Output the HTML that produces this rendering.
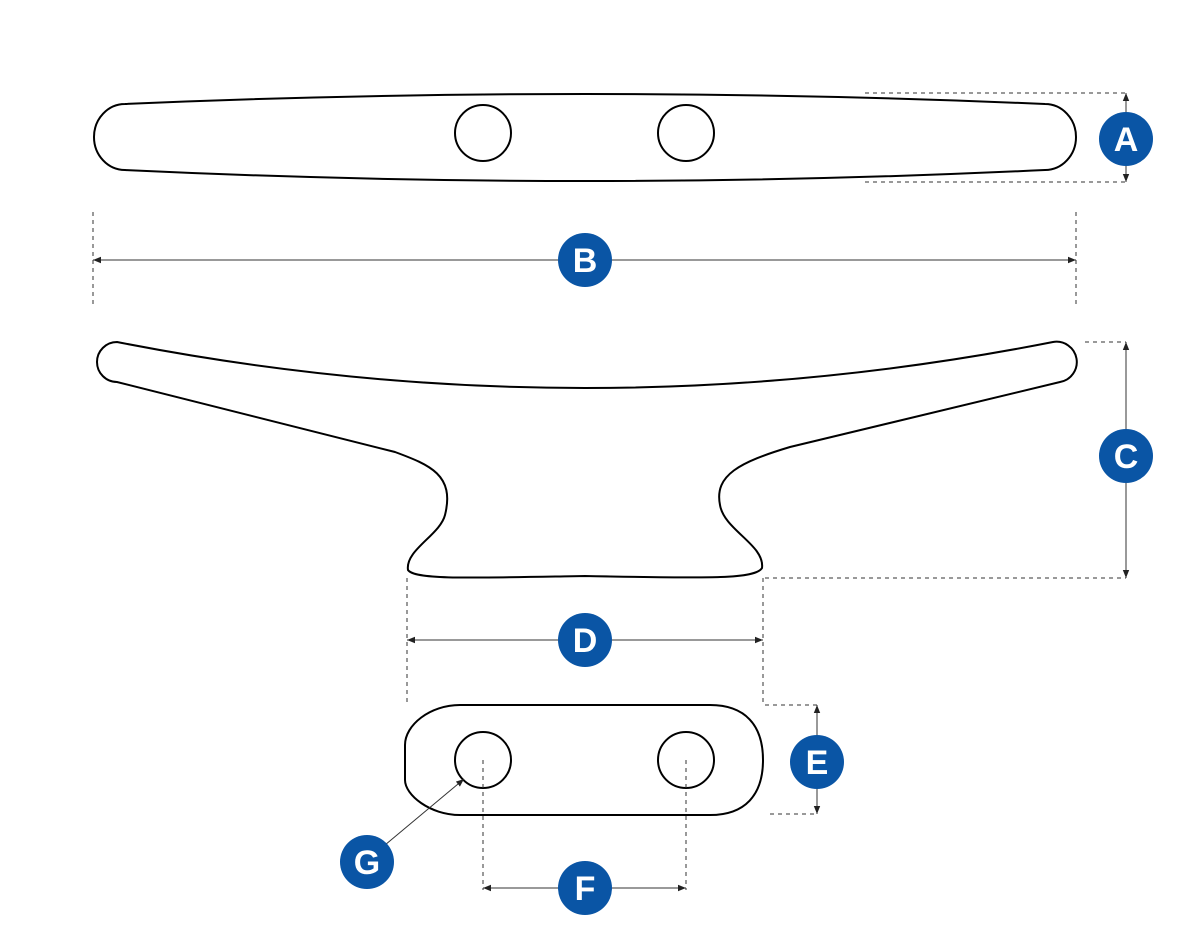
<!DOCTYPE html>
<html><head><style>body{margin:0;background:#fff}svg{display:block}</style></head><body>
<svg width="1200" height="950" viewBox="0 0 1200 950" xmlns="http://www.w3.org/2000/svg">
<defs>
<marker id="ar" viewBox="0 0 10 10" refX="10" refY="5" markerWidth="8" markerHeight="8" orient="auto-start-reverse" markerUnits="userSpaceOnUse"><path d="M0,1 L10,5 L0,9 Z" fill="#222"/></marker>
</defs>
<g fill="none" stroke="#000" stroke-width="2">
<path d="M125,104 Q585,84 1045,104 A31,33 0 0 1 1045,170 Q585,192 125,170 A31,33 0 0 1 125,104 Z"/>
<circle cx="483" cy="133" r="28"/><circle cx="686" cy="133" r="28"/>
<path d="M117,342 Q585,434 1053,342 A20,20 0 0 1 1060,382 L790,447 C740,462 714,475 720,505 C724,530 765,545 762,568 C755,580 700,578 585,576 C470,578 415,580 408,570 C405,550 440,535 445,515 C455,475 430,465 395,452 L117,382 A20,20 0 0 1 117,342 Z"/>
<path d="M460,705 L710,705 C745,705 763,725 763,760 C763,795 745,815 710,815 L460,815 C430,815 405,795 405,780 L405,745 C405,725 430,705 460,705 Z"/>
<circle cx="483" cy="760" r="28"/><circle cx="686" cy="760" r="28"/>
</g>
<g stroke="#333" stroke-width="1" stroke-dasharray="4,4" fill="none">
<path d="M865,93H1126M865,182H1126"/>
<path d="M93,212V308M1076,212V308"/>
<path d="M1085,342H1126M765,578H1126"/>
<path d="M407,578V705M763,578V705"/>
<path d="M765,705H817M770,814H817"/>
<path d="M483,760V890M686,760V890"/>
</g>
<g stroke="#333" stroke-width="1" fill="none">
<line x1="1126" y1="93" x2="1126" y2="182" marker-start="url(#ar)" marker-end="url(#ar)"/>
<line x1="93" y1="260" x2="1076" y2="260" marker-start="url(#ar)" marker-end="url(#ar)"/>
<line x1="1126" y1="342" x2="1126" y2="578" marker-start="url(#ar)" marker-end="url(#ar)"/>
<line x1="407" y1="640" x2="763" y2="640" marker-start="url(#ar)" marker-end="url(#ar)"/>
<line x1="817" y1="705" x2="817" y2="814" marker-start="url(#ar)" marker-end="url(#ar)"/>
<line x1="483" y1="888" x2="686" y2="888" marker-start="url(#ar)" marker-end="url(#ar)"/>
<line x1="385" y1="845" x2="464" y2="779" marker-end="url(#ar)"/>
</g>
<g fill="#0a55a5">
<circle cx="1126" cy="139" r="27"/><circle cx="585" cy="260" r="27"/><circle cx="1126" cy="456" r="27"/>
<circle cx="585" cy="640" r="27"/><circle cx="817" cy="762" r="27"/><circle cx="585" cy="888" r="27"/><circle cx="367" cy="862" r="27"/>
</g>
<g fill="#fff" font-family="Liberation Sans, sans-serif" font-weight="bold" font-size="34" text-anchor="middle">
<text x="1126" y="151">A</text><text x="585" y="272">B</text><text x="1126" y="468">C</text>
<text x="585" y="652">D</text><text x="817" y="774">E</text><text x="585" y="900">F</text><text x="367" y="874">G</text>
</g>
</svg>
</body></html>
